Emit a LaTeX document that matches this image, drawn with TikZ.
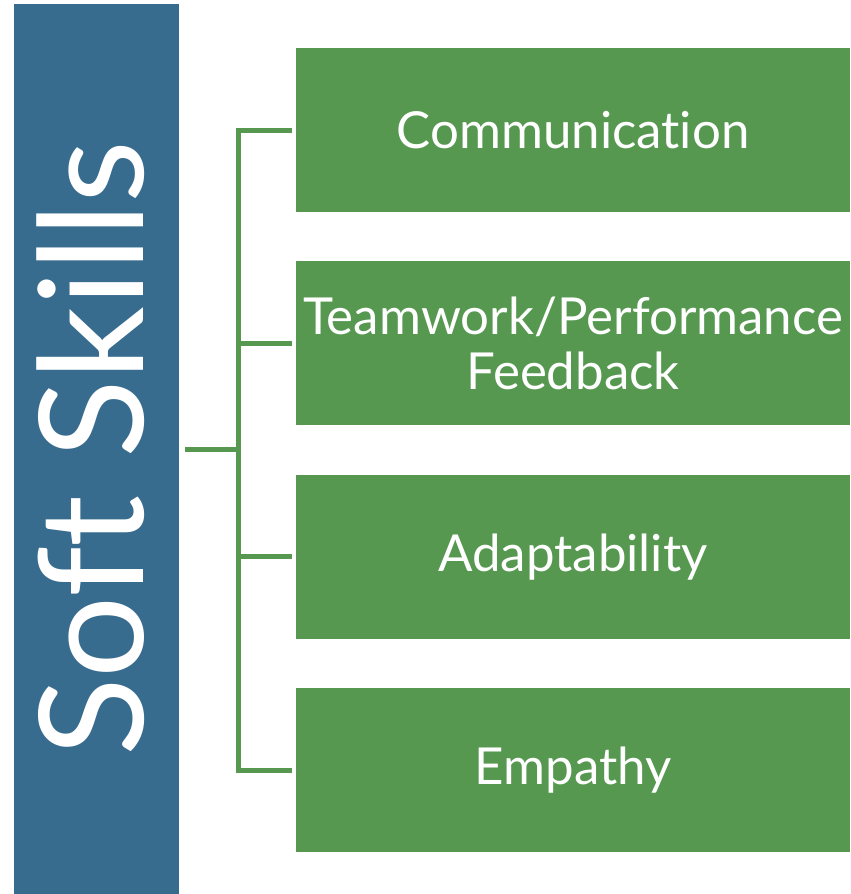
\documentclass[tikz,border=0pt]{standalone}
\usepackage{fontspec}
\setmainfont[Ligatures=NoCommon]{Lato}
\usetikzlibrary{positioning}
\definecolor{barblue}{RGB}{56,108,143}
\definecolor{skillgreen}{RGB}{86,152,80}
\tikzset{
    title bar/.style={rectangle, fill=barblue, text=white, rotate=90, minimum width=890pt, minimum height=165pt, inner sep=0pt, text depth=12pt, font=\fontsize{145}{150}\selectfont},
    skill box/.style={rectangle, fill=skillgreen, text=white, minimum width=554pt, minimum height=164pt, inner sep=0pt, align=center, font=\fontsize{51}{55}\selectfont},
    branch/.style={draw=skillgreen, line width=5pt}
}

\begin{document}
\begin{tikzpicture}[x=1pt, y=-1pt]
    \useasboundingbox (0,0) rectangle (851,894);

    % rotated title bar on the left (its south side faces right)
    \node[title bar] (skills) at (96.5,449) {Soft Skills};

    \node[skill box] (comm) at (573,130) {Communication};
    \node[skill box, below=49pt of comm] (team) {Teamwork/Performance\\Feedback};
    \node[skill box, below=49pt of team] (adapt) {Adaptability};
    \node[skill box, below=49pt of adapt] (empathy) {Empathy};

    \draw[branch] ([xshift=6pt]skills.south) -- ++(53,0) coordinate (hub);
    \draw[branch] ([xshift=-4pt]comm.west) -| (hub |- empathy.west) -- ([xshift=-4pt]empathy.west);
    \draw[branch] (hub |- team.west) -- ([xshift=-4pt]team.west);
    \draw[branch] (hub |- adapt.west) -- ([xshift=-4pt]adapt.west);

\end{tikzpicture}
\end{document}
